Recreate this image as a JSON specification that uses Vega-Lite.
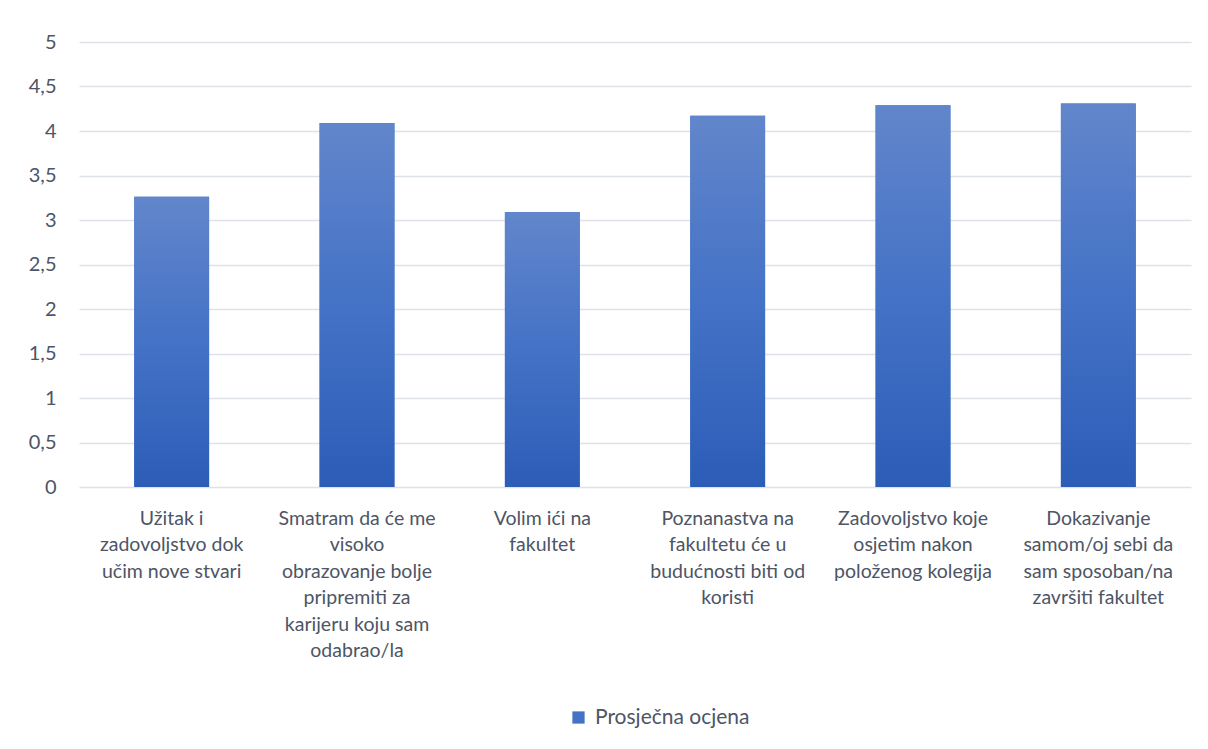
{
  "$schema": "https://vega.github.io/schema/vega-lite/v6.json",
  "autosize": {"type": "none"},
  "padding": {"left": 79, "top": 42, "right": 17, "bottom": 262},
  "width": 1112,
  "height": 445,
  "background": "white",
  "config": {
    "view": {"stroke": null},
    "font": "Lato",
    "axis": {"labelColor": "#4d5566", "labelFont": "Lato", "domain": false, "ticks": false, "title": null}
  },
  "data": {
    "values": [
      {"tvrdnja": "Užitak i|zadovoljstvo dok|učim nove stvari", "ocjena": 3.26, "serija": "Prosječna ocjena"},
      {"tvrdnja": "Smatram da će me|visoko|obrazovanje bolje|pripremiti za|karijeru koju sam|odabrao/la", "ocjena": 4.09, "serija": "Prosječna ocjena"},
      {"tvrdnja": "Volim ići na|fakultet", "ocjena": 3.09, "serija": "Prosječna ocjena"},
      {"tvrdnja": "Poznanastva na|fakultetu će u|budućnosti biti od|koristi", "ocjena": 4.17, "serija": "Prosječna ocjena"},
      {"tvrdnja": "Zadovoljstvo koje|osjetim nakon|položenog kolegija", "ocjena": 4.29, "serija": "Prosječna ocjena"},
      {"tvrdnja": "Dokazivanje|samom/oj sebi da|sam sposoban/na|završiti fakultet", "ocjena": 4.31, "serija": "Prosječna ocjena"}
    ]
  },
  "encoding": {
    "x": {
      "field": "tvrdnja",
      "type": "nominal",
      "sort": null,
      "scale": {"paddingInner": 0.596, "paddingOuter": 0.298},
      "axis": {
        "labelAngle": 0,
        "labelExpr": "split(datum.label, '|')",
        "labelFontSize": 19.5,
        "labelLineHeight": 26.5,
        "labelBaseline": "top",
        "labelPadding": 22,
        "labelLimit": 200,
        "grid": false
      }
    },
    "y": {
      "field": "ocjena",
      "type": "quantitative",
      "scale": {"domain": [0, 5], "nice": false},
      "axis": {
        "values": [0, 0.5, 1, 1.5, 2, 2.5, 3, 3.5, 4, 4.5, 5],
        "labelExpr": "replace(format(datum.value, '~g'), '.', ',')",
        "labelFontSize": 20,
        "labelPadding": 23,
        "gridColor": "#dde2e9",
        "gridWidth": 1.3
      }
    }
  },
  "layer": [
    {
      "mark": {"type": "bar"},
      "encoding": {
        "color": {
          "field": "serija",
          "type": "nominal",
          "scale": {"range": ["#4472c4"]},
          "legend": {
            "title": null,
            "orient": "none",
            "legendX": 489,
            "legendY": 665,
            "symbolType": "square",
            "symbolSize": 150,
            "symbolStrokeWidth": 0,
            "labelFontSize": 21,
            "labelColor": "#4d5566",
            "labelFont": "Lato",
            "labelOffset": 6
          }
        }
      }
    },
    {
      "mark": {
        "type": "bar",
        "fill": {
          "gradient": "linear",
          "x1": 0, "y1": 0, "x2": 0, "y2": 1,
          "stops": [
            {"offset": 0, "color": "#6286cb"},
            {"offset": 0.5, "color": "#4472c6"},
            {"offset": 1, "color": "#2c5db7"}
          ]
        }
      }
    }
  ]
}
